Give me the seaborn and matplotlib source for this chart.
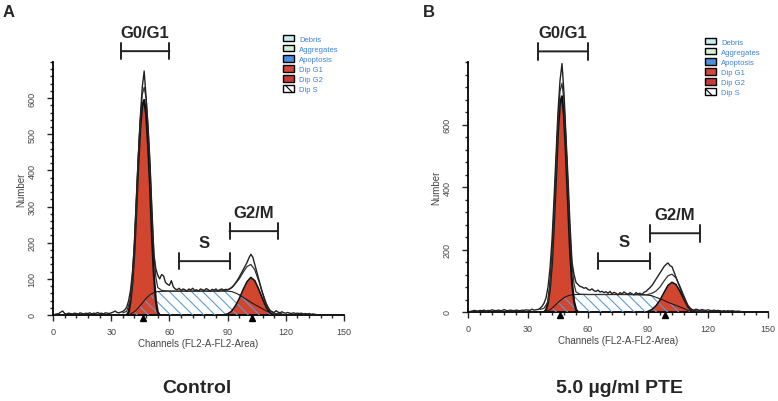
import matplotlib

matplotlib.use("Agg")

import matplotlib.pyplot as plt
import matplotlib.transforms as mtransforms
import numpy as np
import seaborn as sns
from matplotlib.patches import Patch
from matplotlib.ticker import MultipleLocator

# ---- panel A: control ----
a_channels = np.arange(1, 137)
a_raw = [
    2, 3, 4, 8, 11, 4, 3, 5, 4, 3,
    5, 4, 3, 6, 4, 3, 5, 4, 6, 3,
    5, 4, 7, 4, 5, 3, 6, 5, 4, 6,
    8, 11, 7, 6, 8, 10, 14, 22, 40, 70,
    120, 200, 320, 440, 545, 630, 675, 600, 520, 420,
    290, 168, 128, 110, 100, 112, 108, 90, 85, 82,
    95, 78, 72, 70, 74, 68, 72, 70, 66, 72,
    69, 74, 68, 70, 66, 72, 70, 68, 73, 70,
    66, 71, 69, 72, 67, 70, 72, 69, 71, 70,
    72, 75, 80, 88, 96, 105, 115, 125, 135, 145,
    158, 168, 160, 140, 120, 100, 80, 60, 42, 28,
    18, 12, 9, 7, 12, 8, 6, 9, 6, 5,
    7, 5, 4, 6, 4, 5, 4, 5, 3, 4,
    3, 4, 2, 3, 2, 1,
]
a_fit_channels = [36, 38, 40, 41, 42, 43, 44, 45, 46, 47, 48, 49, 50, 51, 52, 53, 54, 56, 58, 60,
                  64, 70, 80, 88, 90, 92, 94, 96, 98, 100, 102, 104, 106, 108, 110, 112, 114, 116, 118]
a_fit = [6, 10, 45, 100, 188, 312, 435, 540, 610, 630, 600, 520, 416, 280, 172, 105, 76, 68, 67, 66,
         66, 66, 66, 67, 69, 76, 87, 100, 118, 134, 140, 125, 95, 62, 31, 11, 4, 4, 4]
a_g1_channels = list(range(38, 56))
a_g1 = [0, 8, 40, 95, 180, 300, 420, 520, 580, 595, 555, 470, 360, 220, 110, 40, 8, 0]
a_s_channels = [39, 40, 42, 44, 46, 48, 50, 52, 54, 60, 70, 80, 90, 92, 94, 96, 98, 100, 102, 104,
                106, 108, 110, 112, 114, 115]
a_s = [0, 3, 9, 20, 33, 46, 56, 62, 65, 66, 66, 66, 66, 65, 61, 56, 49, 42, 35, 29,
       23, 17, 11, 6, 2, 0]
a_g2_channels = [88, 90, 92, 94, 96, 98, 100, 102, 104, 106, 108, 110, 112, 113]
a_g2 = [0, 3, 10, 25, 45, 70, 92, 104, 95, 72, 45, 20, 5, 0]
a_peaks = [46.5, 102.5]

# ---- panel B: 5.0 ug/ml PTE ----
b_channels = np.arange(1, 138)
b_raw = [
    2, 3, 5, 4, 3, 5, 4, 6, 3, 5,
    4, 7, 5, 4, 6, 5, 4, 8, 5, 4,
    6, 5, 4, 6, 5, 4, 6, 5, 7, 6,
    5, 9, 6, 7, 8, 12, 18, 28, 45, 80,
    140, 230, 360, 500, 640, 740, 795, 700, 560, 430,
    280, 160, 120, 95, 88, 82, 80, 76, 78, 72,
    70, 74, 68, 66, 70, 64, 66, 62, 65, 60,
    66, 58, 63, 60, 55, 62, 58, 64, 60, 56,
    62, 58, 55, 62, 58, 60, 56, 63, 66, 72,
    78, 85, 95, 105, 115, 125, 135, 145, 152, 157,
    148, 145, 128, 112, 95, 78, 60, 44, 30, 20,
    12, 8, 6, 9, 7, 5, 8, 6, 5, 7,
    5, 4, 6, 4, 5, 4, 3, 4, 3, 4,
    3, 4, 3, 2, 3, 2, 1,
]
b_fit_channels = [36, 38, 40, 41, 42, 43, 44, 45, 46, 47, 48, 49, 50, 51, 52, 53, 54, 56, 60, 70,
                  80, 88, 90, 92, 94, 96, 98, 100, 102, 104, 106, 108, 110, 112, 114, 118]
b_fit = [8, 12, 33, 86, 172, 308, 454, 610, 706, 732, 676, 549, 402, 254, 150, 90, 64, 57, 56, 56,
         56, 55, 56, 60, 67, 80, 99, 116, 121, 109, 82, 51, 21, 6, 4, 4]
b_g1_channels = list(range(38, 56))
b_g1 = [0, 6, 30, 80, 160, 290, 430, 580, 670, 690, 630, 500, 350, 200, 95, 35, 8, 0]
b_s_channels = [39, 40, 42, 44, 46, 48, 50, 52, 54, 60, 70, 80, 88, 90, 92, 94, 96, 98, 100, 102,
                104, 106, 108, 110, 112, 113]
b_s = [0, 3, 12, 24, 36, 46, 52, 55, 56, 56, 56, 56, 55, 54, 52, 47, 42, 37, 31, 26,
       21, 16, 11, 5, 1, 0]
b_g2_channels = [89, 90, 92, 94, 96, 98, 100, 102, 104, 106, 108, 110, 112, 113]
b_g2 = [0, 2, 8, 20, 38, 62, 85, 95, 88, 66, 40, 16, 3, 0]
b_peaks = [46.0, 98.5]

# ---- shared labels ----
gate_labels = ["G0/G1", "S", "G2/M"]
gate_ranges = [(35, 60), (65, 91), (91, 116)]
x_ticks = [0, 30, 60, 90, 120, 150]
legend_labels = ["Debris", "Aggregates", "Apoptosis", "Dip G1", "Dip G2", "Dip S"]
legend_colors = ["#c9eef2", "#d6f2d6", "#4a8fe0", "#d4483a", "#c83a3a", "white"]

RED = "#d2452f"
HATCH_BLUE = "#5b9bd8"
LEGEND_BLUE = "#3d82d8"
FONT = ["Liberation Sans", "DejaVu Sans"]

sns.set_style("ticks")
plt.rcParams["font.family"] = FONT
plt.rcParams["hatch.linewidth"] = 0.8


def draw_panel(fig, ax, raw_ch, raw, fit_ch, fit, g1_ch, g1, s_ch, s, g2_ch, g2,
               peaks, ymax, yticks, yminor, gate_heights, legend_anchor):
    ax.fill_between(g1_ch, g1, color=RED, lw=0, zorder=2)
    ax.fill_between(g2_ch, g2, color=RED, lw=0, zorder=2)
    ax.fill_between(s_ch, s, facecolor="none", edgecolor=HATCH_BLUE,
                    hatch="\\\\\\", lw=0, zorder=3)

    sns.lineplot(x=s_ch, y=s, ax=ax, color="#1a1a1a", lw=0.8, zorder=4)
    sns.lineplot(x=g1_ch, y=g1, ax=ax, color="#111111", lw=1.6, zorder=4)
    sns.lineplot(x=g2_ch, y=g2, ax=ax, color="#111111", lw=1.2, zorder=4)
    sns.lineplot(x=fit_ch, y=fit, ax=ax, color="#333333", lw=0.9, zorder=5)
    sns.lineplot(x=raw_ch, y=raw, ax=ax, color="#222222", lw=1.0, zorder=5)

    trans = mtransforms.blended_transform_factory(ax.transData, ax.transAxes)
    ax.plot(peaks, [-0.012] * len(peaks), "^", color="black", ms=5,
            transform=trans, clip_on=False, zorder=6)

    ax.set_xlim(0, 150)
    ax.set_ylim(0, ymax)
    ax.set_xticks(x_ticks)
    ax.xaxis.set_minor_locator(MultipleLocator(6))
    ax.set_yticks(yticks)
    ax.yaxis.set_minor_locator(MultipleLocator(yminor))
    ax.tick_params(which="major", length=4, width=1, labelsize=6.5, labelcolor="#444444")
    ax.tick_params(which="minor", length=2.5, width=1)
    ax.tick_params(axis="x", pad=5)
    ax.tick_params(axis="y", pad=8)
    for label in ax.get_yticklabels():
        label.set_rotation(90)
        label.set_va("center")
    for side in ["left", "bottom"]:
        ax.spines[side].set_linewidth(1.3)
        ax.spines[side].set_color("black")
    sns.despine(ax=ax)

    ax.set_xlabel("Channels (FL2-A-FL2-Area)", fontsize=7, color="#444444", labelpad=1)
    ax.set_ylabel("Number", fontsize=7, color="#444444", labelpad=1)

    for label, (lo, hi), h in zip(gate_labels, gate_ranges, gate_heights):
        ax.annotate("", xy=(hi, h), xytext=(lo, h), annotation_clip=False,
                    arrowprops=dict(arrowstyle="|-|,widthA=0.6,widthB=0.6", lw=1.4,
                                    color="#222222", mutation_scale=10,
                                    shrinkA=0, shrinkB=0))
        ax.annotate(label, xy=((lo + hi) / 2, h), xytext=(0, 10.5),
                    textcoords="offset points", ha="center", va="baseline",
                    fontsize=12, fontweight="bold", annotation_clip=False)

    handles = [
        Patch(facecolor=c, edgecolor="black", lw=1, label=l,
              hatch="\\\\" if l == "Dip S" else None)
        for l, c in zip(legend_labels, legend_colors)
    ]
    ax.legend(handles=handles, loc="upper left", bbox_to_anchor=legend_anchor,
              bbox_transform=fig.transFigure, frameon=False, fontsize=5.5,
              labelcolor=LEGEND_BLUE, handlelength=1.4, handleheight=0.9,
              handletextpad=0.7, labelspacing=0.3, borderpad=0, borderaxespad=0)


fig = plt.figure(figsize=(7.78, 4.02), dpi=100)
ax_a = fig.add_axes([53 / 778, 86 / 402, 291 / 778, 253 / 402])
ax_b = fig.add_axes([468 / 778, 89 / 402, 300 / 778, 250 / 402])

draw_panel(fig, ax_a, a_channels, a_raw, a_fit_channels, a_fit, a_g1_channels, a_g1,
           a_s_channels, a_s, a_g2_channels, a_g2, a_peaks, 700,
           [0, 100, 200, 300, 400, 500, 600], 20, [730, 149, 232], (283 / 778, 1 - 36 / 402))
draw_panel(fig, ax_b, b_channels, b_raw, b_fit_channels, b_fit, b_g1_channels, b_g1,
           b_s_channels, b_s, b_g2_channels, b_g2, b_peaks, 800,
           [0, 200, 400, 600], 40, [834, 163, 252], (705 / 778, 1 - 39 / 402))

fig.text(3 / 778, 1 - 17 / 402, "A", fontsize=12, fontweight="bold", va="baseline")
fig.text(423 / 778, 1 - 17 / 402, "B", fontsize=12, fontweight="bold", va="baseline")
fig.text(197 / 778, 1 - 393 / 402, "Control", fontsize=14, fontweight="bold",
         ha="center", va="baseline")
fig.text(619 / 778, 1 - 393 / 402, "5.0 µg/ml PTE", fontsize=14, fontweight="bold",
         ha="center", va="baseline")

fig.savefig("out.png", dpi=100)
